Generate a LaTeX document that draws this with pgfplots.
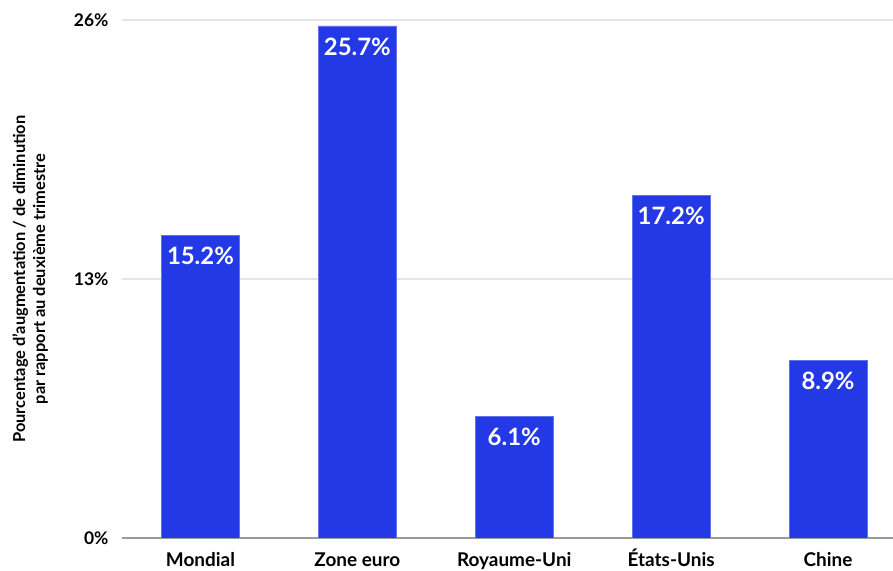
\documentclass[border=0pt]{standalone}
\usepackage{pgfplots}
\pgfplotsset{compat=1.18}
\usepackage{fontspec}
\setmainfont{Lato}
\definecolor{barblue}{HTML}{2339E6}
\definecolor{gridgray}{HTML}{E4E4E4}
\definecolor{axisgray}{HTML}{9A9A9A}
\begin{document}
\begin{tikzpicture}
\useasboundingbox (-122bp,-33bp) rectangle (771bp,538bp);
\begin{axis}[at={(0,0)}, anchor=south west, scale only axis,
  width=771bp, height=518bp,
  ymin=0, ymax=26, xmin=-0.5, xmax=4.414,
  ytick={0,13,26}, yticklabels={0\%,13\%,26\%},
  xtick={0,1,2,3,4},
  xticklabels={Mondial,Zone euro,Royaume-Uni,États-Unis,Chine},
  axis x line*=bottom, axis y line*=left,
  y axis line style={draw=none},
  x axis line style={draw=axisgray, line width=1.5pt, -},
  major tick length=0pt,
  ymajorgrids, grid style={draw=gridgray, line width=1.2pt},
  yticklabel style={anchor=east, xshift=-10bp, font=\bfseries\fontsize{17.5}{19}\selectfont, text=black},
  xticklabel style={anchor=base, yshift=-28bp, inner sep=0pt, font=\bfseries\fontsize{19}{21}\selectfont, text=black},
  ylabel={Pourcentage d'augmentation / de diminution\\par rapport au deuxième trimestre},
  ylabel style={at={(axis description cs:-0.119,0.5)}, anchor=center, align=center,
    font=\bfseries\fontsize{16.5}{20}\selectfont},
  nodes near coords={\pgfmathprintnumber[fixed,precision=1,fixed zerofill]{\pgfplotspointmeta}\%},
  nodes near coords style={anchor=north, text=white, yshift=-8bp,
    font=\bfseries\fontsize{24}{26}\selectfont},
  /pgf/number format/assume math mode=true,
]
\addplot[ybar, bar width=78bp, fill=barblue, draw=barblue!70!white, line width=0.6pt]
  coordinates {(0,15.2) (1,25.7) (2,6.1) (3,17.2) (4,8.9)};
\end{axis}
\end{tikzpicture}
\end{document}
